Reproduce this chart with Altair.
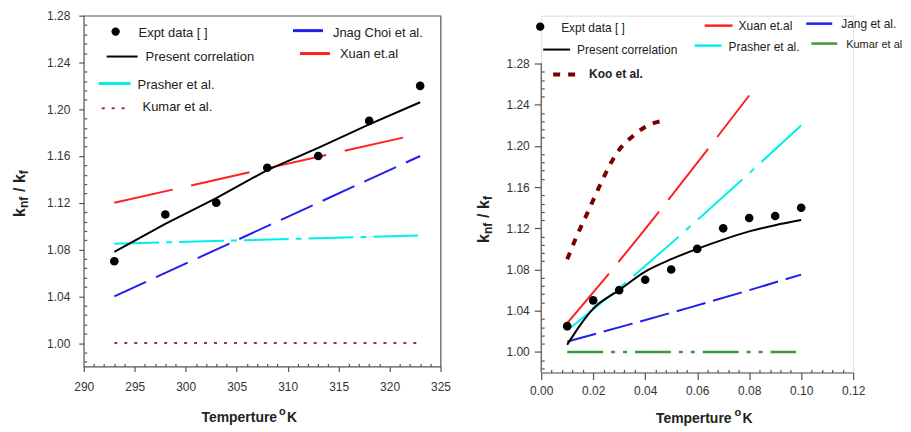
import altair as alt
import pandas as pd

FONT = "Liberation Sans"

# ---------------- Left panel data ----------------
L_expt_x = [293, 298, 303, 308, 313, 318, 323]
L_expt_y = [1.07, 1.11, 1.12, 1.15, 1.16, 1.19, 1.22]
L_present_x = [293, 298, 303, 308, 313, 318, 323]
L_present_y = [1.078, 1.102, 1.124, 1.148, 1.167, 1.187, 1.206]
L_xuan_x = [293, 323]
L_xuan_y = [1.12, 1.179]
L_jang_x = [293, 323]
L_jang_y = [1.04, 1.16]
L_prasher_x = [293, 323]
L_prasher_y = [1.085, 1.092]
L_kumar_x = [293, 323]
L_kumar_y = [1.00, 1.00]

# ---------------- Right panel data ----------------
R_expt_x = [0.01, 0.02, 0.03, 0.04, 0.05, 0.06, 0.07, 0.08, 0.09, 0.10]
R_expt_y = [1.025, 1.05, 1.06, 1.07, 1.08, 1.10, 1.12, 1.13, 1.132, 1.14]
R_present_x = [0.010, 0.015, 0.02, 0.03, 0.04, 0.05, 0.06, 0.07, 0.08, 0.09, 0.10]
R_present_y = [1.007, 1.026, 1.042, 1.060, 1.078, 1.090, 1.100, 1.109, 1.117, 1.123, 1.128]
R_xuan_x = [0.01, 0.027, 0.08]
R_xuan_y = [1.028, 1.079, 1.249]
R_prasher_x = [0.01, 0.03, 0.06, 0.10]
R_prasher_y = [1.021, 1.062, 1.128, 1.22]
R_jang_x = [0.01, 0.033, 0.057, 0.10]
R_jang_y = [1.010, 1.026, 1.043, 1.075]
R_kumar_x = [0.01, 0.098]
R_kumar_y = [1.00, 1.00]
R_koo_x = [0.010, 0.0136, 0.0176, 0.021, 0.0245, 0.0288, 0.035, 0.043, 0.046]
R_koo_y = [1.090, 1.112, 1.134, 1.153, 1.172, 1.192, 1.209, 1.222, 1.224]

# axis tick values (major = labelled, outward; minor = small inward ticks)
L_xmajor = [290, 295, 300, 305, 310, 315, 320, 325]
L_xminor = [v for v in range(290, 326) if v % 5 != 0]
L_ymajor = [1.00, 1.04, 1.08, 1.12, 1.16, 1.20, 1.24, 1.28]
L_yminor = [round(0.984 + 0.008 * k, 3) for k in range(38) if (k - 2) % 5 != 0]
R_xmajor = [0.0, 0.02, 0.04, 0.06, 0.08, 0.10, 0.12]
R_xminor = [round(0.004 * k, 3) for k in range(31) if k % 5 != 0]
R_ymajor = [1.00, 1.04, 1.08, 1.12, 1.16, 1.20, 1.24, 1.28]
R_yminor = [round(0.984 + 0.008 * k, 3) for k in range(38) if (k - 2) % 5 != 0]
R_yaxis_line = [0.98, 1.28]

RED = "#ff2020"
BLUE = "#2020ee"
CYAN = "#00eeee"
KOO = "#7a0000"
KUMAR_L = "#a03030"
GREEN = "#3a9a3a"
AXC = "#555555"
TXT = "#222222"
LAB = "#333333"

one = pd.DataFrame({"a": [0]})


def xy(xs, ys):
    return pd.DataFrame({"x": xs, "y": ys})


def txt(s, x, y, size=13, weight="normal", angle=0, align="left", baseline="middle", color=TXT):
    return alt.Chart(one).mark_text(
        text=s, font=FONT, fontSize=size, fontWeight=weight, angle=angle,
        align=align, baseline=baseline, color=color
    ).encode(x=alt.value(x), y=alt.value(y))


def seg(x1, x2, y, color, dash=None, width=2.0):
    kw = dict(color=color, strokeWidth=width)
    if dash:
        kw["strokeDash"] = dash
    return alt.Chart(one).mark_rule(**kw).encode(x=alt.value(x1), x2=alt.value(x2), y=alt.value(y))


def dot(x, y):
    return alt.Chart(one).mark_circle(size=70, color="black", opacity=1).encode(
        x=alt.value(x), y=alt.value(y))


def ax_labels(values, orient, pad, fmt, tick_size, domain=False):
    return alt.Axis(values=values, orient=orient, title=None, grid=False, domain=domain,
                    domainColor=AXC, domainWidth=1.2, labelPadding=pad, labelFontSize=12,
                    labelColor=LAB, labelFont=FONT, format=fmt, labelOverlap=False,
                    labelFlush=False, ticks=True, tickSize=tick_size, tickColor=AXC,
                    tickWidth=1.2)


def ax_ticks(values, orient, size, offset):
    return alt.Axis(values=values, orient=orient, title=None, grid=False, domain=False,
                    labels=False, ticks=True, tickSize=size, tickColor=AXC, tickWidth=1.2,
                    offset=offset)


# ---------------- Left chart ----------------
LW, LH = 358, 352
lxs = alt.Scale(domain=[290, 325], nice=False, zero=False)
lys = alt.Scale(domain=[0.98, 1.28], nice=False, zero=False)


def LX(axis=None):
    return alt.X("x:Q", scale=lxs, axis=axis)


def LY(axis=None):
    return alt.Y("y:Q", scale=lys, axis=axis)


def lline(xs, ys, color, dash=None, width=2.0):
    kw = dict(color=color, strokeWidth=width)
    if dash:
        kw["strokeDash"] = dash
    return alt.Chart(xy(xs, ys)).mark_line(**kw).encode(x=LX(), y=LY())


expt_L = xy(L_expt_x, L_expt_y)
left_layers = [
    # axis carriers: labels + outward major ticks, inward minor ticks
    alt.Chart(expt_L).mark_point(opacity=0).encode(
        x=LX(ax_labels(L_xmajor, "bottom", 10, "d", 5)),
        y=LY(ax_labels(L_ymajor, "left", 9, ".2f", 5))),
    alt.Chart(expt_L).mark_point(opacity=0).encode(
        x=LX(ax_ticks(L_xminor, "top", 3, -LH)),
        y=LY(ax_ticks(L_yminor, "right", 3, -LW))),
    lline(L_kumar_x, L_kumar_y, KUMAR_L, [3, 7], 2),
    lline(L_prasher_x, L_prasher_y, CYAN, [45, 7, 6, 7], 2),
    lline(L_jang_x, L_jang_y, BLUE, [35, 11], 2),
    lline(L_xuan_x, L_xuan_y, RED, [60, 19], 2),
    lline(L_present_x, L_present_y, "black", None, 2),
    alt.Chart(expt_L).mark_circle(size=75, color="black", opacity=1).encode(x=LX(), y=LY()),
    # legend
    dot(32, 16), txt("Expt data [  ]", 55, 17),
    seg(23, 54, 41, "black"), txt("Present correlation", 62, 41),
    seg(15, 47, 68, CYAN, None, 3), txt("Prasher et al.", 54, 70),
    seg(18, 47, 93, KUMAR_L, [3, 7], 2), txt("Kumar et al.", 59, 92),
    seg(210, 240, 15, BLUE, None, 3), txt("Jnag Choi et al.", 250, 17),
    seg(217, 247, 38, RED, None, 3), txt("Xuan et.al", 257, 38),
    # y title  k_nf / k_f
    txt("k", -59, 202, 16, "bold", 270, "left", "alphabetic"),
    txt("nf", -56, 193, 12, "bold", 270, "left", "alphabetic"),
    txt("/", -59, 177, 16, "bold", 270, "left", "alphabetic"),
    txt("k", -59, 168, 16, "bold", 270, "left", "alphabetic"),
    txt("f", -56, 159, 12, "bold", 270, "left", "alphabetic"),
    # x title
    txt("Temperture", 194, LH + 56, 14, "bold", 0, "right", "alphabetic"),
    txt("o", 196, LH + 49, 11, "bold", 0, "left", "alphabetic"),
    txt("K", 204, LH + 56, 14, "bold", 0, "left", "alphabetic"),
]
left = alt.layer(*left_layers).resolve_axis(x="independent", y="independent").properties(
    width=LW, height=LH, view=alt.ViewBackground(stroke=AXC, strokeWidth=1.2))

# ---------------- Right chart ----------------
RW, RH = 313, 358
rxs = alt.Scale(domain=[0, 0.12], nice=False, zero=False)
rys = alt.Scale(domain=[0.98, 1.3265], nice=False, zero=False)


def RX(axis=None):
    return alt.X("x:Q", scale=rxs, axis=axis)


def RY(axis=None):
    return alt.Y("y:Q", scale=rys, axis=axis)


def rline(xs, ys, color, dash=None, width=2.0, interp="monotone"):
    kw = dict(color=color, strokeWidth=width, interpolate=interp)
    if dash:
        kw["strokeDash"] = dash
    return alt.Chart(xy(xs, ys)).mark_line(**kw).encode(x=RX(), y=RY())


expt_R = xy(R_expt_x, R_expt_y)
right_layers = [
    alt.Chart(expt_R).mark_point(opacity=0).encode(
        x=RX(ax_labels(R_xmajor, "bottom", 6, ".2f", 7, True)),
        y=RY(ax_labels(R_ymajor, "left", 5, ".2f", 7, False))),
    alt.Chart(expt_R).mark_point(opacity=0).encode(
        x=RX(ax_ticks(R_xminor, "top", 3, -RH)),
        y=RY(ax_ticks(R_yminor, "right", 3, -RW))),
    # y axis line (stops at 1.28)
    alt.Chart(pd.DataFrame({"y": R_yaxis_line})).mark_line(color=AXC, strokeWidth=1.2).encode(
        x=alt.value(0), y=RY()),
    rline(R_kumar_x, R_kumar_y, GREEN, [36, 8, 4, 8, 4, 8], 2.5, "linear"),
    rline(R_jang_x, R_jang_y, BLUE, [30, 8], 2),
    rline(R_prasher_x, R_prasher_y, CYAN, [60, 10, 6, 10], 2),
    rline(R_xuan_x, R_xuan_y, RED, [65, 15], 2),
    rline(R_koo_x, R_koo_y, KOO, [7, 8], 4),
    rline(R_present_x, R_present_y, "black", None, 2),
    alt.Chart(expt_R).mark_circle(size=75, color="black", opacity=1).encode(x=RX(), y=RY()),
    # legend
    dot(-1, 11), txt("Expt data [  ]", 20, 12, 12),
    seg(2, 29, 34, "black"), txt("Present correlation", 36, 34, 12),
    seg(12, 39, 59, KOO, [7, 8], 4), txt("Koo et al.", 48, 59, 12, "bold"),
    seg(164, 192, 10, RED, None, 2.5), txt("Xuan et.al", 198, 10, 12),
    seg(154, 181, 30, CYAN, None, 2.5), txt("Prasher et al.", 188, 31, 12),
    seg(266, 292, 8, BLUE, None, 2.5), txt("Jang et al.", 301, 8, 12),
    seg(271, 297, 28, GREEN, None, 2.5), txt("Kumar et al", 306, 29, 11),
    # y title
    txt("k", -52, 228, 16, "bold", 270, "left", "alphabetic"),
    txt("nf", -49, 219, 12, "bold", 270, "left", "alphabetic"),
    txt("/", -52, 203, 16, "bold", 270, "left", "alphabetic"),
    txt("k", -52, 194, 16, "bold", 270, "left", "alphabetic"),
    txt("f", -49, 185, 12, "bold", 270, "left", "alphabetic"),
    # x title
    txt("Temperture", 191, RH + 51, 14, "bold", 0, "right", "alphabetic"),
    txt("o", 194, RH + 44, 11, "bold", 0, "left", "alphabetic"),
    txt("K", 202, RH + 51, 14, "bold", 0, "left", "alphabetic"),
]
right = alt.layer(*right_layers).resolve_axis(x="independent", y="independent").properties(
    width=RW, height=RH)

chart = alt.hconcat(left, right, spacing=24).properties(
    padding={"left": 3, "top": 0, "right": 0, "bottom": 0}
).configure_view(stroke=None).configure(background="white")

chart.save("out.html", embed_options={"renderer": "svg", "actions": False})
